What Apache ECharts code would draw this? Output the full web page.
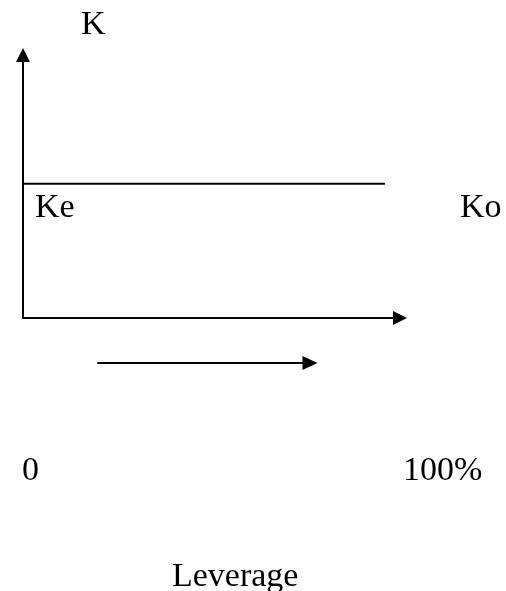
<!DOCTYPE html>
<html>
<head>
<meta charset="utf-8">
<script src="https://cdn.jsdelivr.net/npm/echarts@6/dist/echarts.min.js"></script>
<style>html,body{margin:0;padding:0;background:#fff}#c{width:506px;height:591px}</style>
</head>
<body>
<div id="c"></div>
<script>
// Data
const keLine = [[0, 51], [96, 51]];      // Ke = Ko flat cost of capital line
const axisTitleY = 'K';
const axisTitleX = 'Leverage';
const seriesLabels = ['Ke', 'Ko'];
const tickLabels = ['0', '100%'];

const FONT = '34px "Liberation Serif", "Times New Roman", serif';
const chart = echarts.init(document.getElementById('c'), null, {renderer: 'canvas'});

function txt(t, x, y) {
  return {type: 'text', x: x, y: y, style: {text: t, font: FONT, fill: '#000', align: 'left', verticalAlign: 'middle'}};
}

const axisBase = {
  axisTick: {show: false}, axisLabel: {show: false}, splitLine: {show: false}
};

chart.setOption({
  animation: false,
  backgroundColor: '#fff',
  grid: [
    {left: 23, right: 106, top: 55, bottom: 273},
    {left: 98, right: 196, top: 340, bottom: 228}
  ],
  xAxis: [
    Object.assign({type: 'value', gridIndex: 0, min: 0, max: 100,
      axisLine: {show: true, onZero: false, symbol: ['none', 'triangle'], symbolSize: [14, 14], lineStyle: {color: '#000', width: 2}}}, axisBase),
    Object.assign({type: 'value', gridIndex: 1, min: 0, max: 100,
      axisLine: {show: true, onZero: false, symbol: ['none', 'triangle'], symbolSize: [14, 15], lineStyle: {color: '#000', width: 2}}}, axisBase)
  ],
  yAxis: [
    Object.assign({type: 'value', gridIndex: 0, min: 0, max: 100,
      axisLine: {show: true, onZero: false, symbol: ['none', 'triangle'], symbolSize: [14, 14], lineStyle: {color: '#000', width: 2}}}, axisBase),
    Object.assign({type: 'value', gridIndex: 1, min: 0, max: 100, show: false}, axisBase)
  ],
  series: [{
    type: 'line', xAxisIndex: 0, yAxisIndex: 0, data: keLine,
    showSymbol: false, symbol: 'none',
    lineStyle: {color: '#000', width: 2}
  }],
  graphic: [
    txt(axisTitleY, 81, 25),
    txt(seriesLabels[0], 35, 208),
    txt(seriesLabels[1], 460, 208),
    txt(tickLabels[0], 22, 471),
    txt(tickLabels[1], 403, 471),
    txt(axisTitleX, 172, 577)
  ]
});
</script>
</body>
</html>
